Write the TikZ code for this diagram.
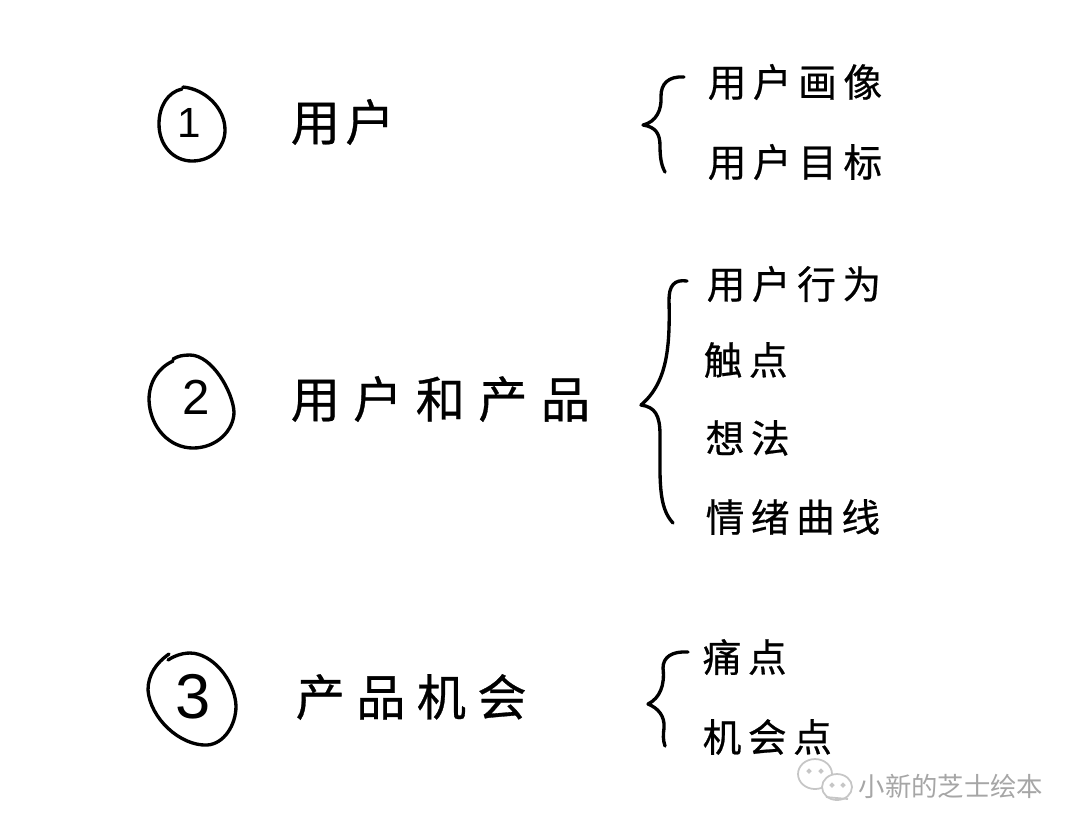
\documentclass[tikz,border=0pt]{standalone}
\usepackage{fontspec}
\newfontfamily\cjkgrande[LetterSpace=23,FakeBold=0.6]{Noto Sans CJK SC}
\newfontfamily\cjkmedio[LetterSpace=17,FakeBold=0.6]{Noto Sans CJK SC}
\newfontfamily\cjkmarca{Noto Sans CJK SC}
\setmainfont{Liberation Sans}

\begin{document}
\begin{tikzpicture}[x=.01cm,y=-.01cm,
   trazo/.style={line width=.95pt,line cap=round,line join=round,black},
   burbuja/.style={line width=.5pt,gray!45},
   grande/.style={anchor=west,inner sep=0pt,font=\cjkgrande\fontsize{14}{16}\selectfont},
   medio/.style={anchor=west,inner sep=0pt,font=\cjkmedio\fontsize{11}{13}\selectfont},
   marca/.style={anchor=west,inner sep=0pt,text=gray!70,font=\cjkmarca\fontsize{7.5}{9}\selectfont}]
   \useasboundingbox (0,0) rectangle (1080,832);
   %circulos
   \draw[trazo] (182,89) .. controls (168,92) and (159,106) .. (159,124)
      .. controls (159,146) and (174,161) .. (192,161)
      .. controls (212,161) and (225,147) .. (225,130)
      .. controls (225,108) and (205,89) .. (183,87);
   \draw[trazo] (173,361) .. controls (158,368) and (149,382) .. (149,400)
      .. controls (150,428) and (170,448) .. (193,448)
      .. controls (217,448) and (234,430) .. (234,412)
      .. controls (233,392) and (212,355) .. (190,355)
      .. controls (183,355) and (178,356) .. (173,359);
   \draw[trazo] (169,654) .. controls (156,663) and (148,675) .. (148,690)
      .. controls (150,718) and (180,746) .. (207,745)
      .. controls (224,744) and (236,725) .. (236,706)
      .. controls (235,680) and (212,653) .. (190,653)
      .. controls (182,653) and (174,656) .. (168,660);
   %numeros
   \draw (189,123) node[inner sep=0pt,font=\fontsize{12}{14}\selectfont] (numA) {1};
   \draw (196,397) node[inner sep=0pt,font=\fontsize{14}{16}\selectfont] (numB) {2};
   \draw (193,697) node[inner sep=0pt,font=\fontsize{18}{20}\selectfont] (numC) {3};
   %titulos
   \draw (290,122) node[grande] (usuario) {\addfontfeature{LetterSpace=11}用户};
   \draw (290,399) node[grande] (usuarioProducto) {\addfontfeature{LetterSpace=27}用户和产品};
   \draw (295,697) node[grande] (oportunidad) {产品机会};
   %llaves
   \draw[trazo] (684,77) .. controls (668,76) and (661,84) .. (661,96)
      .. controls (662,110) and (656,122) .. (643,125)
      .. controls (656,127) and (660,134) .. (660,146)
      .. controls (660,156) and (661,165) .. (665,172);
   \draw[trazo] (687,281) .. controls (674,279) and (669,286) .. (669,300)
      .. controls (670,345) and (668,382) .. (641,405)
      .. controls (655,407) and (660,415) .. (660,435)
      .. controls (660,480) and (658,507) .. (673,523);
   \draw[trazo] (688,652) .. controls (672,651) and (663,657) .. (663,668)
      .. controls (665,685) and (660,698) .. (648,704)
      .. controls (658,708) and (665,716) .. (664,728)
      .. controls (663,735) and (663,740) .. (665,746);
   %subtitulos
   \draw (707,82) node[medio] (retrato) {用户画像};
   \draw (707,162) node[medio] (objetivo) {用户目标};
   \draw (706,284) node[medio] (conducta) {用户行为};
   \draw (703,360) node[medio] (contacto) {触点};
   \draw (705,438) node[medio] (idea) {想法};
   \draw (705,517) node[medio] (emocion) {情绪曲线};
   \draw (702,657) node[medio] (dolor) {痛点};
   \draw (702,737) node[medio] (ocasion) {机会点};
   %marca de agua
   \draw[burbuja,fill=white] (815,774) ellipse (17 and 15);
   \draw[burbuja,fill=white] (837,787) ellipse (15 and 13);
   \draw[burbuja] (826,797) -- (848,799);
   \draw[burbuja,fill=gray!45] (809,771) circle (1.5) (821,771) circle (1.5) (832,785) circle (1.5) (843,785) circle (1.5);
   \draw (858,786) node[marca] (firma) {小新的芝士绘本};
\end{tikzpicture}
\end{document}
